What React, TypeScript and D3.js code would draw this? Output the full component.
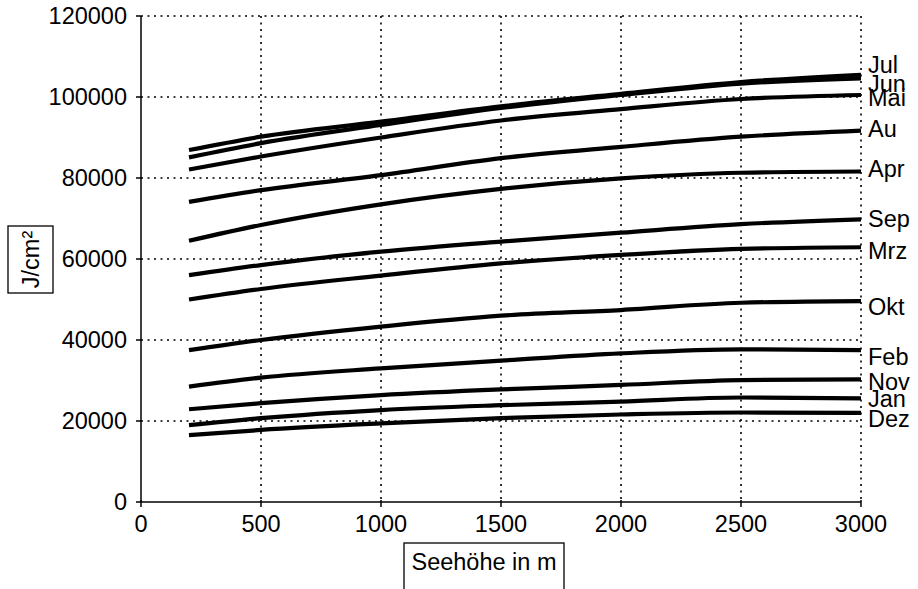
import React from "react";
import * as d3 from "d3";

// Altitude steps (m) at which the monthly irradiation sums are given
const altitudes = [200, 500, 1000, 1500, 2000, 2500, 3000];

// Monthly global irradiation (J/cm²) per altitude
const jul = [86900, 90200, 93900, 97700, 100800, 103700, 105500];
const jun = [85100, 88600, 93100, 97300, 100500, 103300, 104600];
const mai = [82100, 85300, 90000, 94200, 97000, 99500, 100500];
const aug = [74100, 77000, 80700, 84900, 87700, 90200, 91700];
const apr = [64500, 68400, 73500, 77300, 79900, 81300, 81600];
const sep = [56000, 58500, 61800, 64300, 66500, 68600, 69800];
const mrz = [50000, 52600, 55900, 58900, 61000, 62500, 62900];
const okt = [37500, 40000, 43300, 46000, 47400, 49200, 49600];
const feb = [28500, 30700, 33000, 34900, 36700, 37700, 37500];
const nov = [22900, 24400, 26400, 27800, 28900, 30100, 30300];
const jan = [19000, 20700, 22700, 23900, 24800, 25800, 25600];
const dez = [16500, 17800, 19400, 20700, 21600, 22100, 22000];

const monthNames = ["Dez", "Jan", "Nov", "Feb", "Okt", "Mrz", "Sep", "Apr", "Au", "Mai", "Jun", "Jul"];
const monthValues = [dez, jan, nov, feb, okt, mrz, sep, apr, aug, mai, jun, jul];

const xTicks = [0, 500, 1000, 1500, 2000, 2500, 3000];
const yTicks = [0, 20000, 40000, 60000, 80000, 100000, 120000];

// vertical shift of end labels so crowded ones stay readable
const labelShift: Record<string, number> = {
  Jul: -10, Jun: 5, Mai: 3, Au: -1.5, Apr: -3, Sep: -1,
  Mrz: 4, Okt: 6, Feb: 7, Nov: 2, Jan: 0, Dez: 6,
};

const FONT = "'Liberation Sans', Arial, Helvetica, sans-serif";

export default function App() {
  const W = 918;
  const H = 589;
  const x = d3.scaleLinear().domain([0, 3000]).range([141, 861]);
  const y = d3.scaleLinear().domain([0, 120000]).range([502, 16]);

  const line = d3
    .line<number>()
    .x((_, i) => x(altitudes[i]))
    .y((d) => y(d))
    .curve(d3.curveMonotoneX);

  const [x0, x1] = x.range();
  const [yb, yt] = y.range();

  const labelEls = monthNames.map((name, k) => {
    const vals = monthValues[k];
    const cy = y(vals[vals.length - 1]) + labelShift[name];
    return { name, cy };
  });
  const byName = (n: string) => labelEls.find((l) => l.name === n)!;

  return (
    <svg
      width={W}
      height={H}
      style={{ position: "absolute", left: 0, top: 0, background: "#fff" }}
      fontFamily={FONT}
    >
      <rect width={W} height={H} fill="#fff" />
      {/* gridlines */}
      <g stroke="#000" strokeWidth={1.6} strokeDasharray="2 4.5">
        {yTicks
          .filter((t) => t > 0)
          .map((t) => (
            <line key={"gy" + t} x1={x0} x2={x1} y1={y(t)} y2={y(t)} />
          ))}
        {xTicks
          .filter((t) => t > 0)
          .map((t) => (
            <line key={"gx" + t} x1={x(t)} x2={x(t)} y1={yt} y2={yb} />
          ))}
      </g>

      {/* axes */}
      <g stroke="#000" strokeWidth={1.5}>
        <line x1={x0} x2={x0} y1={yt} y2={yb} />
        <line x1={x0} x2={x1} y1={yb} y2={yb} />
        {yTicks.map((t) => (
          <line key={"ty" + t} x1={x0 - 5} x2={x0} y1={y(t)} y2={y(t)} />
        ))}
        {xTicks.map((t) => (
          <line key={"tx" + t} x1={x(t)} x2={x(t)} y1={yb - 2} y2={yb + 5} />
        ))}
      </g>

      {/* tick labels */}
      <g fontSize={23.5} fill="#000">
        {yTicks.map((t) => (
          <text key={"ly" + t} x={x0 - 14} y={y(t)} dy="0.35em" textAnchor="end">
            {t}
          </text>
        ))}
        {xTicks.map((t) => (
          <text key={"lx" + t} x={x(t)} y={yb + 30} textAnchor="middle">
            {t}
          </text>
        ))}
      </g>

      {/* monthly curves */}
      <g fill="none" stroke="#000" strokeWidth={4.2} strokeLinejoin="round">
        {monthValues.map((vals, k) => (
          <path key={monthNames[k]} d={line(vals) ?? ""} />
        ))}
      </g>

      {/* end labels */}
      <g fontSize={23.5} fill="#000">
        {labelEls
          .filter((l) => !["Jul", "Jun", "Mai"].includes(l.name))
          .map((l) => (
            <text key={"m" + l.name} x={868} y={l.cy} dy="0.35em">
              {l.name}
            </text>
          ))}
        <text x={868} y={byName("Mai").cy} dy="0.35em">Mai</text>
        <rect x={866} y={byName("Jun").cy - 9} width={48} height={8} fill="#fff" />
        <text x={868} y={byName("Jun").cy} dy="0.35em">Jun</text>
        <text x={868} y={byName("Jul").cy} dy="0.35em">Jul</text>
      </g>

      {/* axis titles */}
      <g>
        <rect x={8} y={226} width={45} height={67} fill="#fff" stroke="#000" strokeWidth={1.3} />
        <text
          transform="translate(39,259.5) rotate(-90)"
          textAnchor="middle"
          fontSize={23.5}
        >
          J/cm²
        </text>
        <rect x={404} y={543} width={160} height={60} fill="#fff" stroke="#000" strokeWidth={1.3} />
        <text x={484} y={570} textAnchor="middle" fontSize={23.5}>
          Seehöhe in m
        </text>
      </g>
    </svg>
  );
}
